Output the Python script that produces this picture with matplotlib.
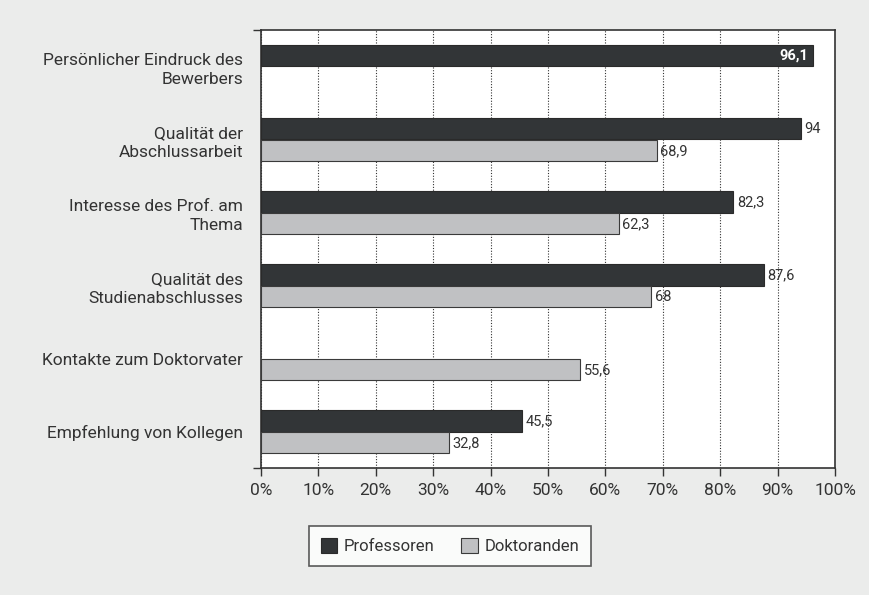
import numpy as np
import matplotlib.pyplot as plt

# Data
categories = ['Persönlicher Eindruck des\nBewerbers',
              'Qualität der\nAbschlussarbeit',
              'Interesse des Prof. am\nThema',
              'Qualität des\nStudienabschlusses',
              'Kontakte zum Doktorvater',
              'Empfehlung von Kollegen']
professoren = [96.1, 94, 82.3, 87.6, np.nan, 45.5]
doktoranden = [np.nan, 68.9, 62.3, 68, 55.6, 32.8]
xticks = [0, 10, 20, 30, 40, 50, 60, 70, 80, 90, 100]

bg = '#ebeceb'
dark = '#323537'
light = '#c0c1c3'
txt = '#333333'

def fmt(v):
    s = ('%.1f' % v).replace('.', ',')
    return s[:-2] if s.endswith(',0') else s

plt.rcParams['font.family'] = ['Roboto', 'DejaVu Sans']

fig = plt.figure(figsize=(8.7, 5.95), dpi=100, facecolor=bg)
ax = fig.add_axes([0.3, 0.2134, 0.6598, 0.7362])
ax.set_facecolor('white')

y = np.arange(len(categories))
h = 0.29
ax.barh(y - 0.145, professoren, height=h, color=dark, edgecolor='#2a2a2a',
        linewidth=0.8, label='Professoren', zorder=3)
ax.barh(y + 0.155, doktoranden, height=h, color=light, edgecolor='#3a3a3a',
        linewidth=0.8, label='Doktoranden', zorder=3)

for i, v in enumerate(professoren):
    if np.isnan(v):
        continue
    if v > 95:
        ax.text(v - 0.8, i - 0.145, fmt(v), ha='right', va='center',
                color='white', fontsize=10.5, fontweight='bold', zorder=4)
    else:
        ax.text(v + 0.6, i - 0.145, fmt(v), ha='left', va='center',
                color=txt, fontsize=10.5, zorder=4)
for i, v in enumerate(doktoranden):
    if np.isnan(v):
        continue
    ax.text(v + 0.6, i + 0.155, fmt(v), ha='left', va='center',
            color=txt, fontsize=10.5, zorder=4)

ax.set_xlim(0, 100)
ax.set_ylim(len(categories) - 0.5, -0.5)
ax.set_xticks(xticks)
ax.set_xticklabels(['%d%%' % t for t in xticks], fontsize=12.5, color=txt)
ax.set_yticks(y)
ax.set_yticklabels(categories, fontsize=12.5, color=txt, linespacing=1.35)
ax.tick_params(axis='y', length=0, pad=13)
ax.tick_params(axis='x', length=6, width=1, color='#333333', pad=5)
ax.set_yticks([-0.5, len(categories) - 0.5], minor=True)
ax.tick_params(axis='y', which='minor', length=6, width=1, color='#333333')

ax.grid(axis='x', color='#333333', linestyle=(0, (1, 1.5)), linewidth=0.8, zorder=0)
for s in ax.spines.values():
    s.set_color('#333333')
    s.set_linewidth(1.2)

leg = ax.legend(loc='center', bbox_to_anchor=(450 / 870, 1 - 546 / 595),
                bbox_transform=fig.transFigure, ncol=2, frameon=True,
                fancybox=False, edgecolor='#333333', fontsize=12,
                handlelength=1.0, handleheight=1.0, handletextpad=0.4,
                columnspacing=1.6, borderpad=0.7)
leg.get_frame().set_linewidth(1.2)
for t in leg.get_texts():
    t.set_color(txt)

fig.savefig('out.png', dpi=100, facecolor=bg)
